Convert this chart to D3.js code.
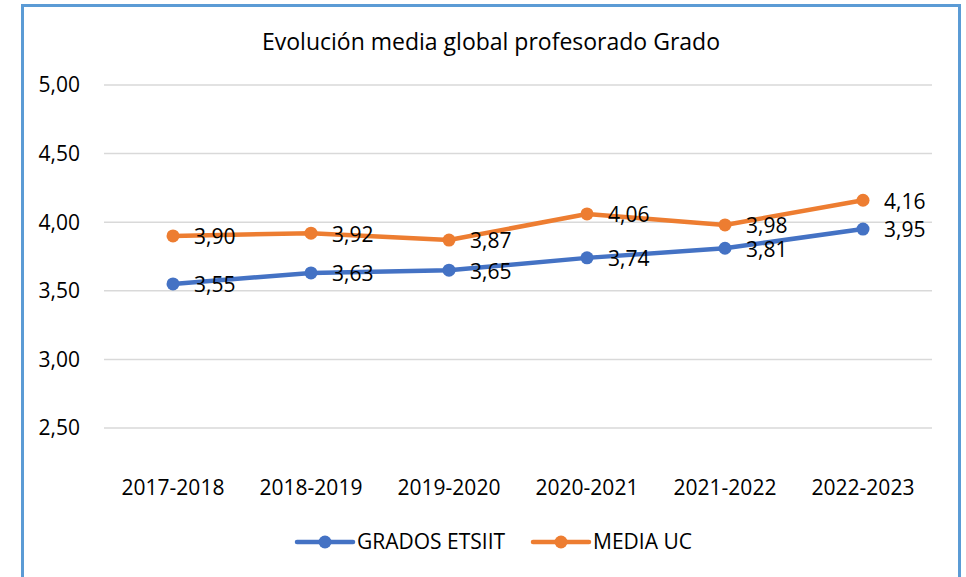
<!DOCTYPE html>
<html>
<head>
<meta charset="utf-8">
<script src="https://cdn.jsdelivr.net/npm/d3@7"></script>
<style>
  body { margin: 0; background: #fff; }
  svg { display: block; font-family: "Open Sans", "Noto Sans", sans-serif; }
</style>
</head>
<body>
<div id="chart"></div>
<script>
const categories = ["2017-2018", "2018-2019", "2019-2020", "2020-2021", "2021-2022", "2022-2023"];
const gradosEtsiit = [3.55, 3.63, 3.65, 3.74, 3.81, 3.95];
const mediaUC = [3.90, 3.92, 3.87, 4.06, 3.98, 4.16];
const yTicks = [2.5, 3.0, 3.5, 4.0, 4.5, 5.0];

const series = [
  {name: "GRADOS ETSIIT", values: gradosEtsiit, color: "#4472c4"},
  {name: "MEDIA UC", values: mediaUC, color: "#ed7d31"}
];

const width = 966, height = 577;
const fmt = v => v.toFixed(2).replace(".", ",");

const svg = d3.select("#chart").append("svg")
  .attr("width", width)
  .attr("height", height);

// frame
svg.append("rect")
  .attr("x", 22.5).attr("y", 5.5)
  .attr("width", 937).attr("height", 600)
  .attr("fill", "#fff")
  .attr("stroke", "#5b9bd5")
  .attr("stroke-width", 3);

svg.append("text")
  .attr("x", 491).attr("y", 42)
  .attr("dy", "0.35em")
  .attr("text-anchor", "middle")
  .style("font-size", "23px")
  .attr("fill", "#000")
  .text("Evolución media global profesorado Grado");

const x = d3.scaleBand().domain(categories).range([104, 932]);
const y = d3.scaleLinear().domain([2.5, 5]).range([428, 85]);

// gridlines
svg.append("g")
  .selectAll("line")
  .data(yTicks)
  .join("line")
  .attr("x1", 104).attr("x2", 932)
  .attr("y1", d => y(d)).attr("y2", d => y(d))
  .attr("stroke", "#d9d9d9")
  .attr("stroke-width", 1.5);

// y labels
svg.append("g")
  .selectAll("text")
  .data(yTicks)
  .join("text")
  .attr("x", 80)
  .attr("y", d => y(d))
  .attr("dy", "0.35em")
  .attr("text-anchor", "end")
  .style("font-size", "21px")
  .text(d => fmt(d));

// x labels
svg.append("g")
  .selectAll("text")
  .data(categories)
  .join("text")
  .attr("x", d => x(d) + x.bandwidth() / 2)
  .attr("y", 488)
  .attr("dy", "0.35em")
  .attr("text-anchor", "middle")
  .style("font-size", "21px")
  .text(d => d);

const cx = i => x(categories[i]) + x.bandwidth() / 2;
const line = d3.line().x((d, i) => cx(i)).y(d => y(d));

series.forEach(s => {
  const g = svg.append("g");
  g.append("path")
    .attr("d", line(s.values))
    .attr("fill", "none")
    .attr("stroke", s.color)
    .attr("stroke-width", 4.5)
    .attr("stroke-linejoin", "round")
    .attr("stroke-linecap", "round");
  g.selectAll("circle")
    .data(s.values)
    .join("circle")
    .attr("cx", (d, i) => cx(i))
    .attr("cy", d => y(d))
    .attr("r", 6.5)
    .attr("fill", s.color);
});

// data labels drawn on top of both lines
series.forEach(s => {
  svg.append("g")
    .selectAll("text")
    .data(s.values)
    .join("text")
    .attr("x", (d, i) => cx(i) + 21)
    .attr("y", d => y(d) + 1)
    .attr("dy", "0.35em")
    .style("font-size", "21px")
    .text(d => fmt(d));
});

// legend
const legend = svg.append("g");
const legendItems = [
  {x: 297, color: series[0].color, name: series[0].name},
  {x: 533, color: series[1].color, name: series[1].name}
];
legendItems.forEach(l => {
  legend.append("line")
    .attr("x1", l.x).attr("x2", l.x + 56)
    .attr("y1", 542).attr("y2", 542)
    .attr("stroke", l.color)
    .attr("stroke-width", 4.5)
    .attr("stroke-linecap", "round");
  legend.append("circle")
    .attr("cx", l.x + 28).attr("cy", 542).attr("r", 6.5)
    .attr("fill", l.color);
  legend.append("text")
    .attr("x", l.x + 60).attr("y", 542)
    .attr("dy", "0.35em")
    .style("font-size", "21px")
    .text(l.name);
});
</script>
</body>
</html>
